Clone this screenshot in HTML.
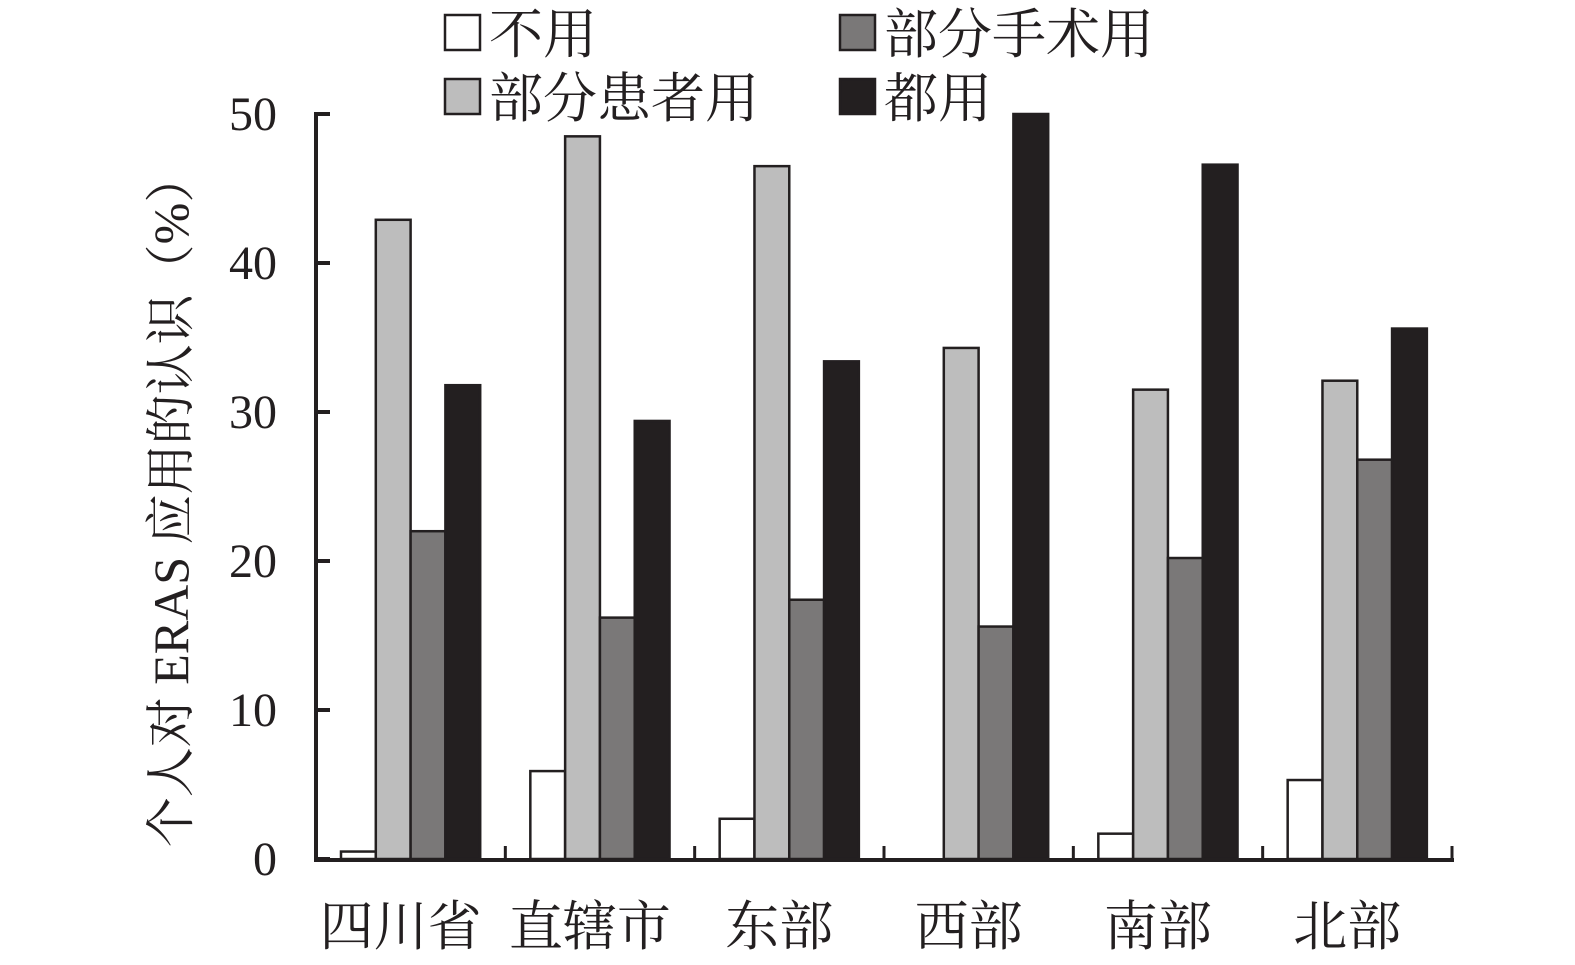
<!DOCTYPE html>
<html><head><meta charset="utf-8"><style>
html,body{margin:0;padding:0;background:#fff;}
svg{display:block;font-family:"Liberation Serif","Noto Serif CJK SC",serif;}
</style></head><body>
<svg id="chart" width="1575" height="965" viewBox="0 0 1575 965" xmlns="http://www.w3.org/2000/svg">
<g id="legend"></g>
<g id="bars"></g>
<g id="axes"></g>
<text transform="translate(188,500) rotate(-90)" text-anchor="middle" font-size="50" fill="#231f20">个人对 ERAS 应用的认识（%）</text>
</svg>
<script>
const categories = ["四川省","直辖市","东部","西部","南部","北部"];
const seriesNames = ["不用","部分患者用","部分手术用","都用"];
const notUsed = [0.5, 5.9, 2.7, 0, 1.7, 5.3];
const somePatients = [42.9, 48.5, 46.5, 34.3, 31.5, 32.1];
const someSurgery = [22.0, 16.2, 17.4, 15.6, 20.2, 26.8];
const allUsed = [31.8, 29.4, 33.4, 50, 46.6, 35.6];
const yTicks = [0,10,20,30,40,50];

const series = [notUsed, somePatients, someSurgery, allUsed];
const fills = ["#ffffff","#bdbdbd","#7a7878","#231f20"];
const NS = "http://www.w3.org/2000/svg";
const x0 = 316, x1 = 1452, y0 = 859, yTop = 114;
const yMax = 50;
const y = v => y0 - (v / yMax) * (y0 - yTop);
const groupW = (x1 - x0) / categories.length;
const barW = 34.8;
const xBar = (gi, si) => x0 + gi * groupW + 25 + si * barW;
function mk(tag, attrs, parent){const e=document.createElementNS(NS,tag);for(const k in attrs)e.setAttribute(k,attrs[k]);parent.appendChild(e);return e;}

const bars = document.getElementById('bars');
series.forEach((vals, si) => {
  vals.forEach((v, gi) => {
    if (v <= 0) return;
    const r = mk('rect', {x: xBar(gi, si), y: y(v), width: barW, height: y0 - y(v), fill: fills[si], stroke: "#231f20", "stroke-width": 2.5}, bars);
    
    
  });
});

const axes = document.getElementById('axes');
const ya = mk('line', {x1: x0, y1: yTop - 2, x2: x0, y2: y0 + 2, stroke: "#231f20", "stroke-width": 4}, axes);


const xa = mk('line', {x1: x0 - 2, y1: y0 + 1, x2: x1 + 2, y2: y0 + 1, stroke: "#231f20", "stroke-width": 4}, axes);


yTicks.forEach(t => {
  const tk = mk('line', {x1: x0, y1: y(t), x2: x0 + 14, y2: y(t), stroke: "#231f20", "stroke-width": 4}, axes);
  
  
  const lb = mk('text', {x: 277, y: y(t) + 16, "text-anchor": "end", "font-size": 48, fill: "#231f20"}, axes);
  lb.textContent = t;
  
  
});
for (let i = 1; i <= categories.length; i++) {
  const xx = x0 + i * groupW;
  const tk = mk('line', {x1: xx, y1: y0, x2: xx, y2: y0 - 13, stroke: "#231f20", "stroke-width": 3}, axes);
  
  
}
categories.forEach((c, gi) => {
  const lb = mk('text', {x: x0 + gi * groupW + 25 + 2 * barW - 10, y: 945, "text-anchor": "middle", "font-size": 54, fill: "#231f20"}, axes);
  lb.textContent = c;
  
  
});

const legend = document.getElementById('legend');
const legPos = [[445,15],[445,79],[840,15],[840,79]];
seriesNames.forEach((n, si) => {
  const [lx, ly] = legPos[si];
  const g = mk('g', {}, legend);
  
  
  const r = mk('rect', {x: lx, y: ly, width: 35, height: 35, fill: fills[si], stroke: "#231f20", "stroke-width": 2.5}, g);
  
  
  const t = mk('text', {x: lx + 44, y: ly + 38, "font-size": 54, fill: "#231f20"}, g);
  t.textContent = n;
  
  
});
</script>
</body></html>
